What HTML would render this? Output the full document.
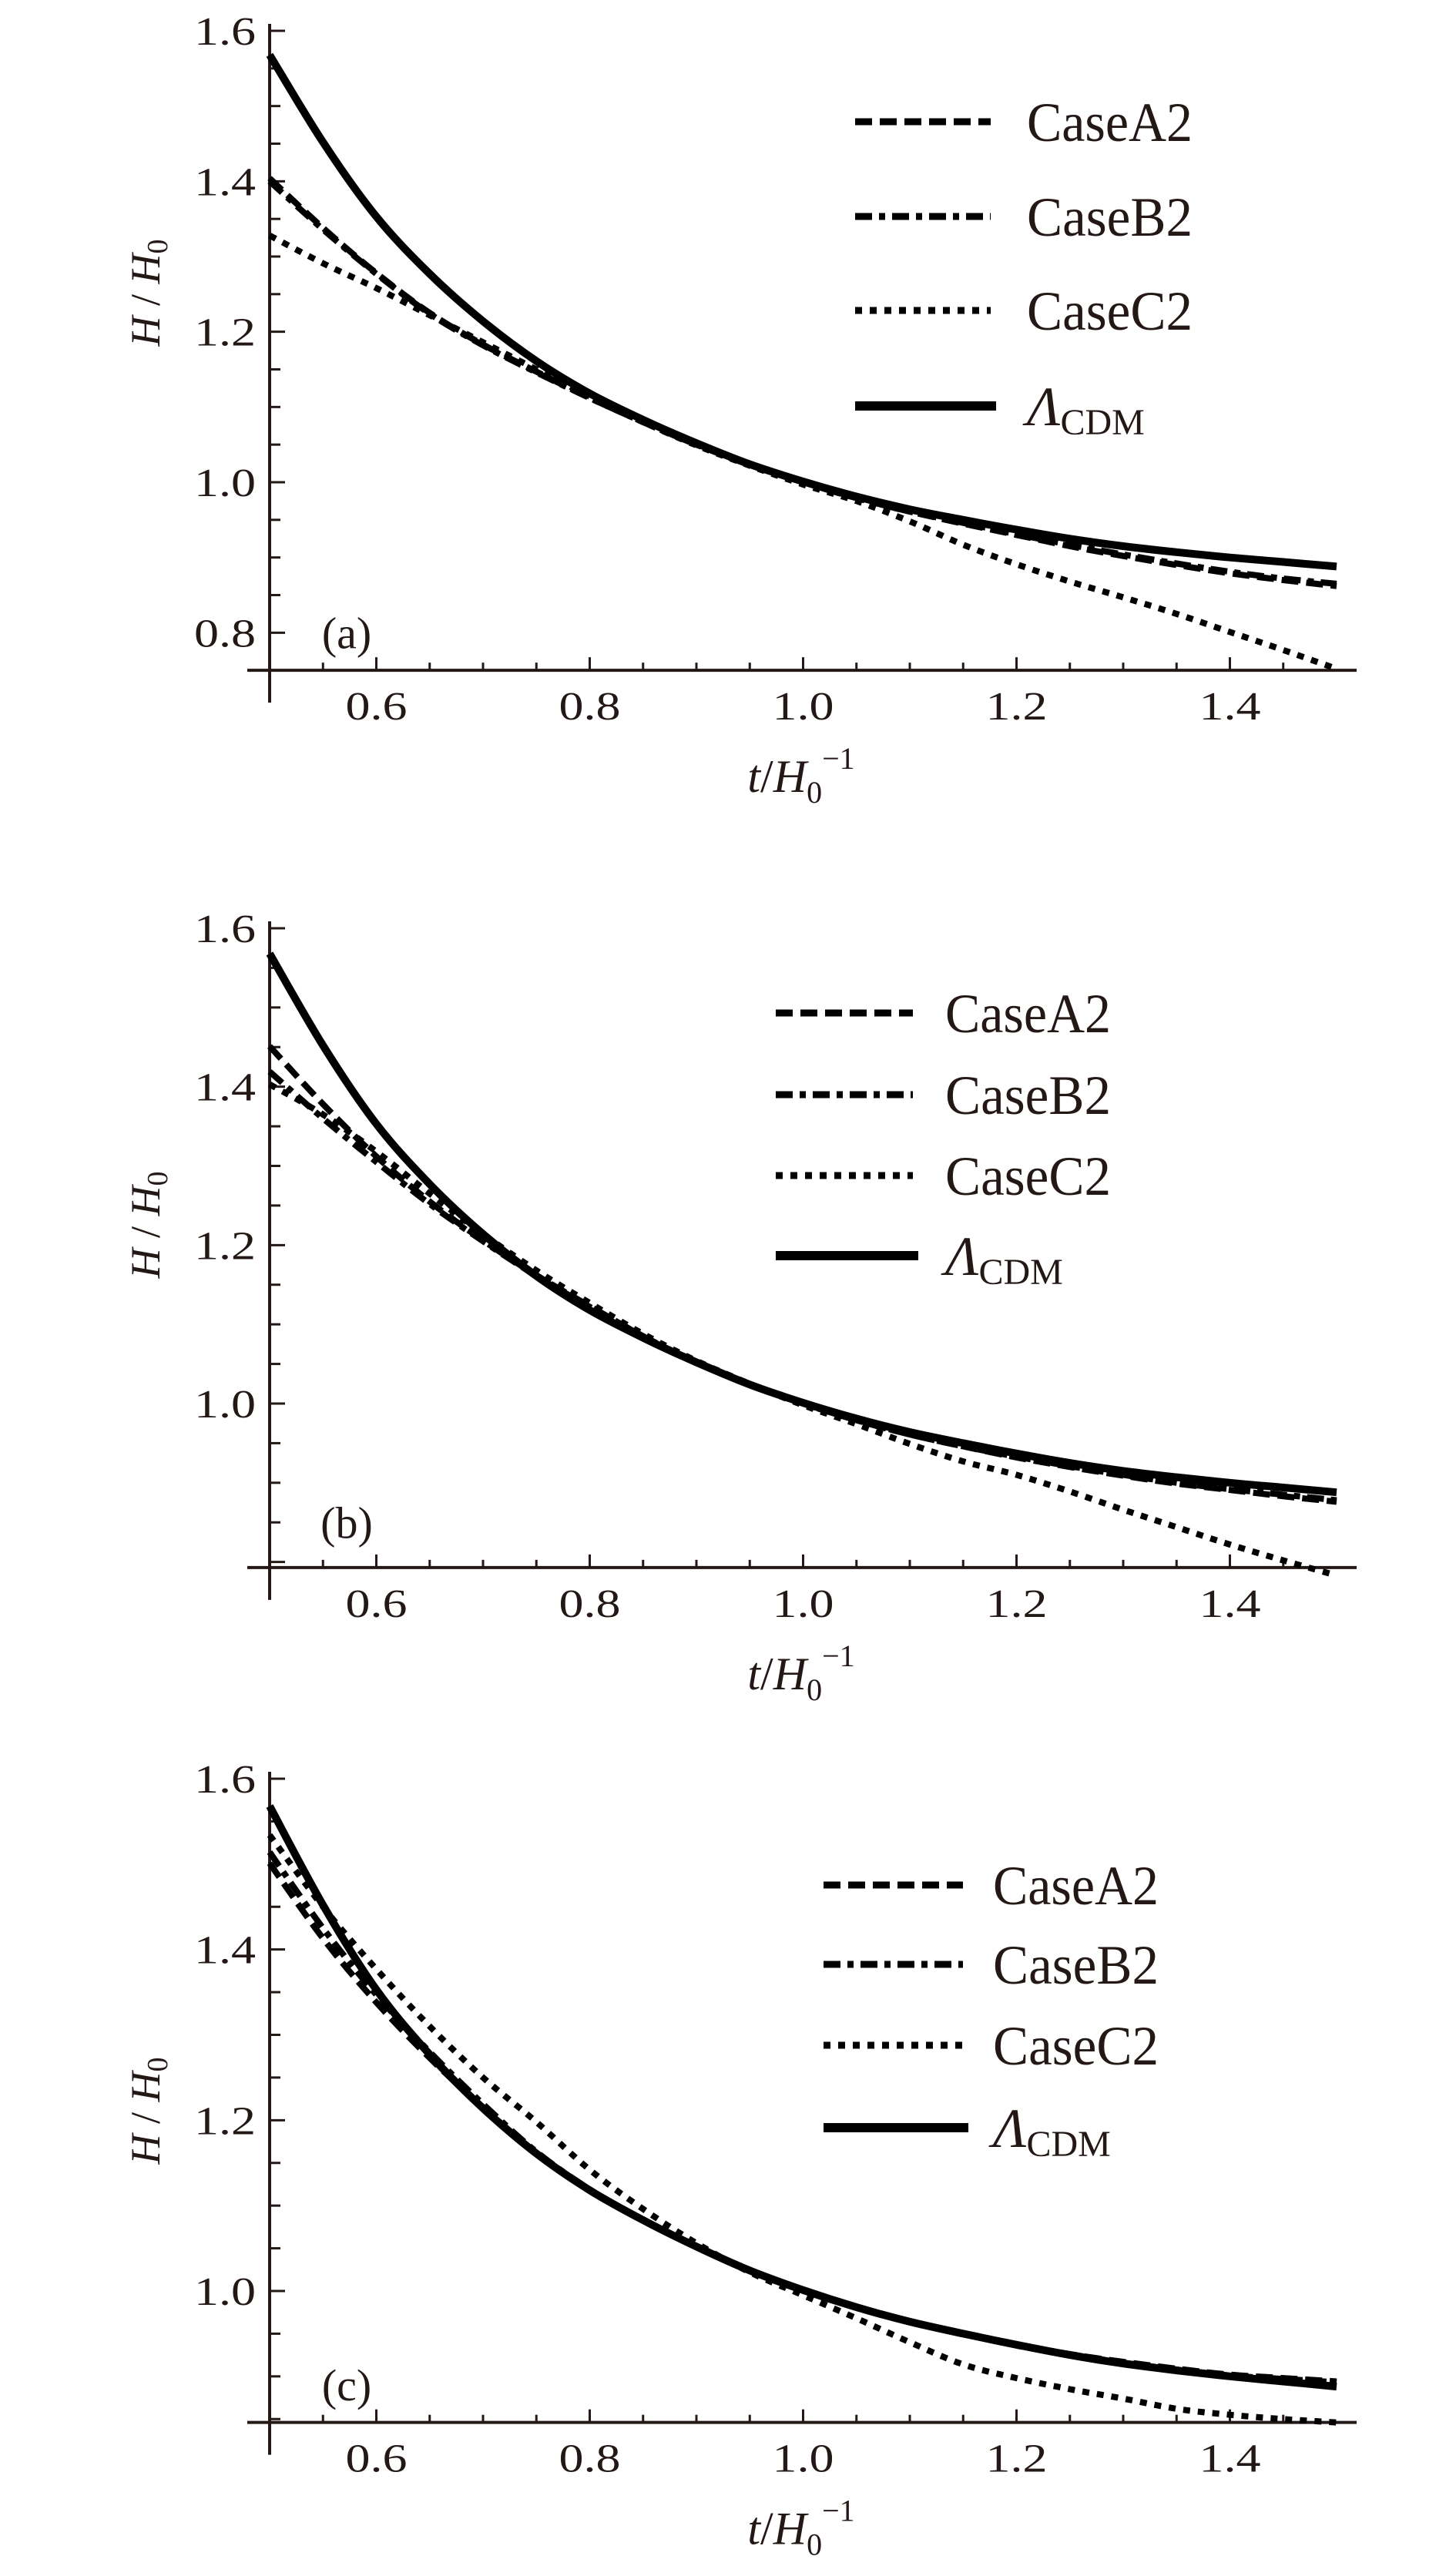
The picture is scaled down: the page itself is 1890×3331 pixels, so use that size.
<!DOCTYPE html>
<html><head><meta charset="utf-8"><title>H/H0 vs t</title>
<style>
html,body{margin:0;padding:0;background:#fff;}
svg{display:block;}
text{font-family:"Liberation Serif",serif;fill:#231815;}
</style></head>
<body>
<svg id="chart" width="1890" height="3331" viewBox="0 0 1890 3331" xmlns="http://www.w3.org/2000/svg"></svg>
<script>
const tValues=[0.5,0.55,0.6,0.65,0.7,0.75,0.8,0.85,0.9,0.95,1.0,1.05,1.1,1.15,1.2,1.25,1.3,1.35,1.4,1.45,1.5];
const lcdm=[1.568,1.452,1.353,1.277,1.214,1.161,1.118,1.083,1.052,1.024,1.001,0.981,0.964,0.950,0.937,0.925,0.915,0.907,0.900,0.894,0.888];
const a_A2=[1.404,1.338,1.278,1.225,1.183,1.147,1.112,1.080,1.050,1.023,1.000,0.979,0.961,0.945,0.930,0.915,0.902,0.890,0.879,0.870,0.862];
const a_B2=[1.400,1.336,1.277,1.224,1.182,1.146,1.112,1.080,1.050,1.023,1.000,0.979,0.961,0.946,0.931,0.917,0.904,0.892,0.881,0.872,0.865];
const a_C2=[1.328,1.291,1.258,1.222,1.186,1.150,1.114,1.080,1.049,1.022,0.997,0.975,0.948,0.917,0.891,0.868,0.847,0.825,0.801,0.777,0.752];
const b_A2=[1.451,1.378,1.312,1.255,1.206,1.162,1.123,1.085,1.052,1.024,1.000,0.979,0.961,0.946,0.932,0.920,0.909,0.899,0.891,0.883,0.876];
const b_B2=[1.419,1.360,1.305,1.252,1.205,1.161,1.122,1.085,1.052,1.024,1.000,0.979,0.961,0.946,0.933,0.921,0.910,0.900,0.892,0.885,0.878];
const b_C2=[1.403,1.365,1.318,1.265,1.214,1.168,1.127,1.088,1.054,1.025,0.998,0.974,0.949,0.927,0.910,0.889,0.866,0.844,0.822,0.802,0.783];
const c_A2=[1.501,1.413,1.338,1.273,1.215,1.162,1.118,1.083,1.052,1.024,1.001,0.981,0.964,0.950,0.937,0.926,0.917,0.909,0.902,0.898,0.894];
const c_B2=[1.514,1.425,1.347,1.280,1.219,1.163,1.119,1.083,1.052,1.024,1.001,0.981,0.964,0.950,0.937,0.926,0.916,0.908,0.901,0.897,0.893];
const c_C2=[1.534,1.450,1.377,1.310,1.250,1.198,1.142,1.096,1.056,1.022,0.995,0.968,0.940,0.914,0.898,0.885,0.874,0.862,0.855,0.850,0.846];
const xTickLabels=["0.6","0.8","1.0","1.2","1.4"];
const yTickLabelsA=["0.8","1.0","1.2","1.4","1.6"];
const yTickLabelsBC=["1.0","1.2","1.4","1.6"];
const legendNames=["CaseA2","CaseB2","CaseC2"];

const NS="http://www.w3.org/2000/svg";
const svg=document.getElementById('chart');
function mk(tag,attrs,parent){const e=document.createElementNS(NS,tag);for(const k in attrs)e.setAttribute(k,attrs[k]);(parent||svg).appendChild(e);return e;}
const styles={A2:{w:8,dash:"22 10"},B2:{w:8,dash:"22 9 8 9"},C2:{w:8,dash:"9 10"},L:{w:10,dash:""}};
function smooth(pts){
 let d='M'+pts[0][0].toFixed(1)+' '+pts[0][1].toFixed(1);
 for(let i=0;i<pts.length-1;i++){
  const p0=pts[Math.max(0,i-1)],p1=pts[i],p2=pts[i+1],p3=pts[Math.min(pts.length-1,i+2)];
  const c1x=p1[0]+(p2[0]-p0[0])/6,c1y=p1[1]+(p2[1]-p0[1])/6;
  const c2x=p2[0]-(p3[0]-p1[0])/6,c2y=p2[1]-(p3[1]-p1[1])/6;
  d+=' C'+c1x.toFixed(1)+' '+c1y.toFixed(1)+' '+c2x.toFixed(1)+' '+c2y.toFixed(1)+' '+p2[0].toFixed(1)+' '+p2[1].toFixed(1);
 }
 return d;
}

const panels=[
 {id:'a',top1:40,y1:626,axisV:0.75,yLo:0.75,labels:yTickLabelsA,series:[a_A2,a_B2,a_C2],leg:{x1:1110,x2:1286,tx:1333,rows:[158,281,403,527]},ytitle:380},
 {id:'b',top1:1205,y1:1822,axisV:0.793,yLo:0.80,labels:yTickLabelsBC,series:[b_A2,b_B2,b_C2],leg:{x1:1007,x2:1185,tx:1227,rows:[1315,1421,1526,1630]},ytitle:1590},
 {id:'c',top1:2309,y1:2974,axisV:0.846,yLo:0.85,labels:yTickLabelsBC,series:[c_A2,c_B2,c_C2],leg:{x1:1069,x2:1250,tx:1289,rows:[2447,2550,2655,2762]},ytitle:2740}
];
const X=t=>350+(t-0.5)*1385;

panels.forEach(p=>{
 const per=(p.y1-p.top1)/0.6;
 const Y=v=>p.y1-(v-1)*per;
 const g=mk('g',{});
 
 
 const axY=Y(p.axisV);
 const ya=mk('line',{x1:350,y1:p.top1-9,x2:350,y2:axY+42,stroke:'#231815','stroke-width':4},g);
 
 
 const xa=mk('line',{x1:321,y1:axY,x2:1761,y2:axY,stroke:'#231815','stroke-width':4},g);
 
 
 for(let k=0;k<=20;k++){const v=1.6-k*0.05; if(v<p.yLo-1e-6)break;
  const major=Math.abs(Math.round(v*5)-v*5)<1e-6;
  mk('line',{x1:350,y1:Y(v),x2:350+(major?20:14),y2:Y(v),stroke:'#231815','stroke-width':3},g);}
 p.labels.forEach(s=>{const v=parseFloat(s);
  const t=mk('text',{x:332,y:Y(v)+18,'text-anchor':'end','font-size':52,textLength:80,lengthAdjust:'spacingAndGlyphs'},g);t.textContent=s;
  
  });
 for(let k=1;k<20;k++){const t=0.5+k*0.05;const major=k%4==2;
  mk('line',{x1:X(t),y1:axY,x2:X(t),y2:axY-(major?17:10),stroke:'#231815','stroke-width':3},g);}
 xTickLabels.forEach(s=>{const t=mk('text',{x:X(parseFloat(s)),y:axY+64,'text-anchor':'middle','font-size':52,textLength:80,lengthAdjust:'spacingAndGlyphs'},g);t.textContent=s;
  
  });
 const all=[['A2',p.series[0]],['B2',p.series[1]],['C2',p.series[2]],['L',lcdm]];
 all.forEach(([key,vals])=>{
  const pts=vals.map((v,i)=>[X(tValues[i]),Y(v)]);
  const st=styles[key];
  const path=mk('path',{d:smooth(pts),fill:'none',stroke:'#000','stroke-width':st.w,'stroke-linejoin':'round'},g);
  if(st.dash)path.setAttribute('stroke-dasharray',st.dash);
  
  
 });
 const L=p.leg;
 ['A2','B2','C2','L'].forEach((key,i)=>{
  const st=styles[key];
  const ln=mk('line',{x1:L.x1,y1:L.rows[i],x2:L.x2+(key=='L'?7:0),y2:L.rows[i],stroke:'#000','stroke-width':key=='L'?12:9},g);
  if(st.dash)ln.setAttribute('stroke-dasharray',st.dash);
  
  
  const tx=mk('text',{x:L.tx,y:L.rows[i]+25,'font-size':72},g);
  if(key=='L'){tx.innerHTML='<tspan font-style="italic">Λ</tspan><tspan font-size="48" dy="12">CDM</tspan>';}
  else {tx.textContent=legendNames[i];tx.setAttribute('textLength','215');tx.setAttribute('lengthAdjust','spacingAndGlyphs');}
  
  
 });
 const pl=mk('text',{x:450,y:Y(p.id=='a'?0.8:(p.id=='b'?0.85:0.89))+20,'text-anchor':'middle','font-size':58},g);
 pl.textContent='('+p.id+')';
 
 
 const yt=mk('text',{x:0,y:0,'text-anchor':'middle','font-size':54,transform:'translate(207,'+p.ytitle+') rotate(-90)'},g);
 yt.innerHTML='<tspan font-style="italic">H</tspan> / <tspan font-style="italic">H</tspan><tspan font-size="38" dy="10">0</tspan>';
 
 
 const xt=mk('text',{x:1040,y:axY+158,'text-anchor':'middle','font-size':60},g);
 xt.innerHTML='<tspan font-style="italic">t</tspan>/<tspan font-style="italic">H</tspan><tspan font-size="40" dy="14">0</tspan><tspan font-size="40" dy="-44">−1</tspan>';
 
 
});
</script>
</body></html>
